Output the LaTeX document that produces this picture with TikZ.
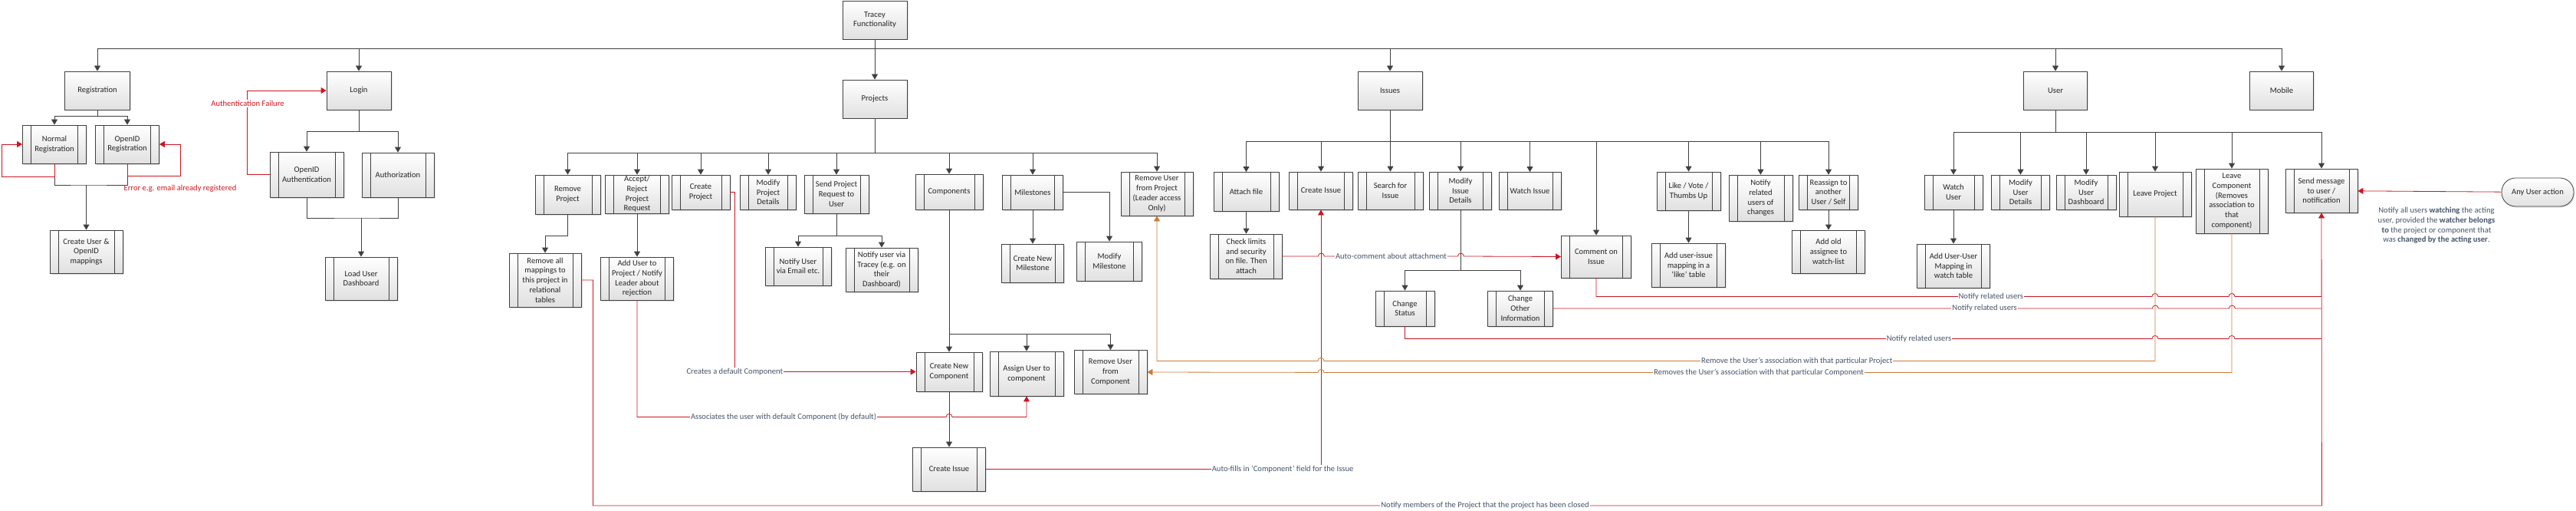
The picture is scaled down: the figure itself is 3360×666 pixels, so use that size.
\documentclass[tikz,border=0pt]{standalone}
\usepackage{fontspec}
\setmainfont{Carlito}
\usepackage{tikz}
\usetikzlibrary{arrows.meta}
\usetikzlibrary{shadows}
\colorlet{lnk}{black!75}
\definecolor{errred}{RGB}{204,22,34}
\definecolor{droporange}{RGB}{204,122,52}
\definecolor{lblslate}{RGB}{68,84,106}
\newcommand\boxfont{\fontsize{10.6}{12.7}\selectfont}
\tikzstyle{box}=[draw=lnk,line width=.8pt,top color=white,bottom color=black!12,
	drop shadow={shadow xshift=1.5pt,shadow yshift=-1.5pt,fill=black!30,opacity=.4},
	align=center,inner sep=0pt,font=\boxfont,text=black!85]
\tikzstyle{proc}=[box]
\tikzstyle{sub}=[box,path picture={
	\draw[lnk,line width=.8pt] ([xshift=11pt]path picture bounding box.north west) -- ([xshift=11pt]path picture bounding box.south west);
	\draw[lnk,line width=.8pt] ([xshift=-11pt]path picture bounding box.north east) -- ([xshift=-11pt]path picture bounding box.south east);}]
\tikzstyle{link}=[lnk,line width=.8pt]
\tikzstyle{errlink}=[errred,line width=.8pt]
\tikzstyle{droplink}=[droporange,line width=.8pt]
\tikzstyle{lbl}=[font=\boxfont,text=lblslate,fill=white,inner sep=1pt]
\tikzstyle{errlbl}=[font=\boxfont,text=errred,inner sep=1pt]
\tikzset{wh/.style 2 args={minimum width=#1,minimum height=#2}}

\begin{document}
\begin{tikzpicture}[x=1pt,y=-1pt,>={Triangle[length=7pt,width=8pt]}]
	\useasboundingbox (0,0) rectangle (3360,666);
	% top level
	\node[proc,wh={84}{50}] (tracey)   at (1141,26)  {Tracey\\Functionality};
	\node[proc,wh={85}{50}] (reg)      at (127,118)  {Registration};
	\node[proc,wh={84}{50}] (login)    at (468,118)  {Login};
	\node[proc,wh={84}{50}] (projects) at (1141,129) {Projects};
	\node[proc,wh={84}{50}] (issues)   at (1813,118) {Issues};
	\node[proc,wh={83}{50}] (user)     at (2681,118) {User};
	\node[proc,wh={83}{50}] (mobile)   at (2976,118) {Mobile};
	\draw[link,->] (tracey) -- (projects);
	\foreach \n in {reg,login,issues,user,mobile}
		\draw[link,->] (tracey.south) ++(0,12) -| (\n);

	% registration
	\node[sub,wh={83}{50}] (normreg) at (71,188)    {Normal\\Registration};
	\node[sub,wh={83}{50}] (oidreg)  at (166,188)   {OpenID\\Registration};
	\node[sub,wh={95}{56}] (mkuser)  at (112.5,328) {Create User \&\\OpenID\\mappings};
	\draw[link] (reg.south) -- ++(0,8);
	\foreach \n in {normreg,oidreg}
		\draw[link,->] (reg.south) ++(0,8) -| (\n);
	\coordinate (regjoin) at (112.5,241);
	\draw[link] (normreg.south) |- (regjoin) -| (oidreg.south);
	\draw[link,->] (regjoin) -- (mkuser);
	\draw[errlink,->] (normreg.south) -- ++(0,17) -- ++(-69,0) |- (normreg.west);
	\draw[errlink,->] (oidreg.south) -- ++(0,16) -- ++(69,0) |- (oidreg.east);
	\node[errlbl] (regerr) at (235,246) {Error e.g. email already registered};

	% login
	\node[sub,wh={96}{59}] (oidauth) at (400,227.5) {OpenID\\Authentication};
	\node[sub,wh={94}{58}] (authz)   at (519,228)   {Authorization};
	\node[sub,wh={94}{56}] (dash)    at (471,363)   {Load User\\Dashboard};
	\draw[link] (login.south) -- ++(0,28);
	\foreach \n in {oidauth,authz}
		\draw[link,->] (login.south) ++(0,28) -| (\n);
	\coordinate (loginjoin) at (471,284);
	\draw[link] (oidauth.south) |- (loginjoin) -| (authz.south);
	\draw[link,->] (loginjoin) -- (dash);
	\draw[errlink,->] (oidauth.west) -- ++(-29,0) |- (login.west);
	\node[errlbl,fill=white] (authfail) at (323,135) {Authentication Failure};

	% projects
	\node[sub,wh={85}{51}] (rmproj)  at (740.5,253.5) {Remove\\Project};
	\node[sub,wh={83}{50}] (accrej)  at (831,253)     {Accept/\\Reject\\Project\\Request};
	\node[sub,wh={76}{45}] (mkproj)  at (914,250.5)   {Create\\Project};
	\node[sub,wh={73}{45}] (modproj) at (1002,250.5)  {Modify\\Project\\Details};
	\node[sub,wh={84}{50}] (sendreq) at (1091,253)    {Send Project\\Request to\\User};
	\node[sub,wh={88}{46}] (comps)   at (1238,250)    {Components};
	\node[sub,wh={79}{45}] (miles)   at (1347,250.5)  {Milestones};
	\node[sub,wh={94}{57}] (rmuser)  at (1509,252.5)  {Remove User\\from Project\\(Leader access\\Only)};
	\draw[link] (projects.south) -- ++(0,45);
	\foreach \n in {rmproj,accrej,mkproj,modproj,sendreq,comps,miles,rmuser}
		\draw[link,->] (projects.south) ++(0,45) -| (\n);

	\node[sub,wh={94}{70}] (rmmap)     at (711,365)    {Remove all\\mappings to\\this project in\\relational\\tables};
	\node[sub,wh={95}{56}] (adduser)   at (831,363)    {Add User to\\Project / Notify\\Leader about\\rejection};
	\node[sub,wh={86}{50}] (notifmail) at (1041,347)   {Notify User\\via Email etc.};
	\node[sub,wh={94}{57}] (notiftr)   at (1150,351.5) {Notify user via\\Tracey (e.g. on\\their\\Dashboard)};
	\node[sub,wh={81}{50}] (newmile)   at (1347,343)   {Create New\\Milestone};
	\node[sub,wh={85}{51}] (modmile)   at (1447,340.5) {Modify\\Milestone};
	\draw[link,->] (rmproj.south) -- ++(0,28) -| (rmmap);
	\draw[link,->] (accrej) -- (adduser);
	\draw[link] (sendreq.south) -- ++(0,29);
	\foreach \n in {notifmail,notiftr}
		\draw[link,->] (sendreq.south) ++(0,29) -| (\n);
	\draw[link,->] (miles) -- (newmile);
	\draw[link,->] (miles.east) -| (modmile);

	% components
	\node[sub,wh={86}{51}] (newcomp)  at (1238,484.5) {Create New\\Component};
	\node[sub,wh={96}{58}] (assign)   at (1339,487)   {Assign User to\\component};
	\node[sub,wh={95}{57}] (rmcomp)   at (1448.5,485) {Remove User\\from\\Component};
	\node[sub,wh={95}{57}] (mkissue1) at (1238,611.5) {Create Issue};
	\draw[link,->] (comps) -- (newcomp);
	\foreach \n in {assign,rmcomp}
		\draw[link,->] (comps.south) ++(0,162) -| (\n);
	\draw[link,->] (newcomp) -- (mkissue1);

	% issues
	\node[sub,wh={85}{51}] (attach)   at (1625.5,250) {Attach file};
	\node[sub,wh={94}{58}] (chklim)   at (1625.5,334) {Check limits\\and security\\on file. Then\\attach};
	\node[sub,wh={83}{49}] (mkissue2) at (1723,248.5) {Create Issue};
	\node[sub,wh={85}{49}] (search)   at (1813.5,248.5) {Search for\\Issue};
	\node[sub,wh={81}{49}] (modiss)   at (1905,248.5) {Modify\\Issue\\Details};
	\node[sub,wh={81}{49}] (watchiss) at (1995.5,249) {Watch Issue};
	\node[sub,wh={91}{55}] (comment)  at (2082,334.5) {Comment on\\Issue};
	\node[sub,wh={77}{46}] (chstat)   at (1832.5,402) {Change\\Status};
	\node[sub,wh={85}{46}] (chother)  at (1983,402)   {Change\\Other\\Information};
	\node[sub,wh={83}{50}] (like)     at (2202.5,249) {Like / Vote /\\Thumbs Up};
	\node[sub,wh={96}{57}] (likemap)  at (2202.5,345.5) {Add user-issue\\mapping in a\\‘like’ table};
	\node[sub,wh={83}{60}] (notifch)  at (2296.5,258) {Notify\\related\\users of\\changes};
	\node[sub,wh={77}{45}] (reassign) at (2385,250.5) {Reassign to\\another\\User / Self};
	\node[sub,wh={95}{56}] (oldwatch) at (2385,328)   {Add old\\assignee to\\watch-list};
	\draw[link] (issues.south) -- ++(0,41);
	\foreach \n in {attach,mkissue2,search,modiss,watchiss,comment,like,notifch,reassign}
		\draw[link,->] (issues.south) ++(0,41) -| (\n);
	\draw[link,->] (attach) -- (chklim);
	\draw[link,->] (like) -- (likemap);
	\draw[link,->] (reassign) -- (oldwatch);
	\draw[link] (modiss.south) -- ++(0,79);
	\foreach \n in {chstat,chother}
		\draw[link,->] (modiss.south) ++(0,79) -| (\n);

	% user
	\node[sub,wh={76}{45}] (watchusr)  at (2548,250.5) {Watch\\User};
	\node[sub,wh={76}{45}] (moduser)   at (2635.5,250.5) {Modify\\User\\Details};
	\node[sub,wh={78}{45}] (moddash)   at (2721,250.5) {Modify\\User\\Dashboard};
	\node[sub,wh={94}{58}] (leaveproj) at (2811,253)   {Leave Project};
	\node[sub,wh={94}{84}] (leavecomp) at (2911,262)   {Leave\\Component\\(Removes\\association to\\that\\component)};
	\node[sub,wh={94}{57}] (sendmsg)   at (3028,248.5) {Send message\\to user /\\notification};
	\node[sub,wh={95}{57}] (watchmap)  at (2548,346.5) {Add User-User\\Mapping in\\watch table};
	\draw[link] (user.south) -- ++(0,29);
	\foreach \n in {watchusr,moduser,moddash,leaveproj,leavecomp,sendmsg}
		\draw[link,->] (user.south) ++(0,29) -| (\n);
	\draw[link,->] (watchusr) -- (watchmap);
	\node[box,wh={94}{37},rounded corners=18pt] (anyact) at (3310,250.5) {Any User action};
	\draw[errlink,->] (anyact) -- (sendmsg);
	\node[font=\boxfont,text=lblslate,align=center] (watchnote) at (3178,294)
		{Notify all users \textbf{watching} the acting\\user, provided the \textbf{watcher belongs}\\\textbf{to} the project or component that\\was \textbf{changed by the acting user}.};

	% red and orange links
	\draw[errlink,->] (mkproj.east) -- ++(6,0) |- node[lbl,pos=.5] {Creates a default Component} (newcomp.west);
	\draw[errlink,->] (adduser.south) -- ++(0,152) -- node[lbl,pos=.474] {Associates the user with default Component (by default)} ++(403,0)
		arc[start angle=180,end angle=360,radius=4] -| (assign.south);
	\draw[errlink,->] (rmmap.east) -- ++(15,0) -- ++(0,294) -- node[lbl,pos=.516] {Notify members of the Project that the project has been closed} ++(2255,0) -- (sendmsg.south);
	\draw[errlink,->] (mkissue1.east) -| node[lbl,pos=.443] {Auto-fills in ‘Component’ field for the Issue} (mkissue2.south);
	\draw[errlink,->] (chklim.east) -- ++(46.5,0) arc[start angle=180,end angle=360,radius=4]
		-- node[lbl] {Auto-comment about attachment} ++(174,0) arc[start angle=180,end angle=360,radius=4] -- (comment.west);
	\draw[errlink] (comment.south) -- ++(0,24) -- node[lbl,pos=.71] {Notify related users} ++(725,0)
		arc[start angle=180,end angle=360,radius=4] -- ++(92,0) arc[start angle=180,end angle=360,radius=4] -- ++(113,0);
	\draw[errlink] (chother.east) -- node[lbl,pos=.72] {Notify related users} ++(781.5,0)
		arc[start angle=180,end angle=360,radius=4] -- ++(92,0) arc[start angle=180,end angle=360,radius=4] -- ++(113,0);
	\draw[errlink] (chstat.south) -- ++(0,16) -- node[lbl,pos=.688] {Notify related users} ++(974.5,0)
		arc[start angle=180,end angle=360,radius=4] -- ++(92,0) arc[start angle=180,end angle=360,radius=4] -- ++(113,0);
	\draw[droplink,->] (leaveproj.south) -- ++(0,188) -- node[lbl,pos=.431] {Remove the User’s association with that particular Project} ++(-1084,0)
		arc[start angle=0,end angle=-180,radius=4] -| (rmuser.south);
	\draw[droplink,->] (leavecomp.south) -- ++(0,181) -- node[lbl,pos=.521] {Removes the User’s association with that particular Component} ++(-1184,0)
		arc[start angle=0,end angle=-180,radius=4] -- (rmcomp.east);
\end{tikzpicture}
\end{document}
